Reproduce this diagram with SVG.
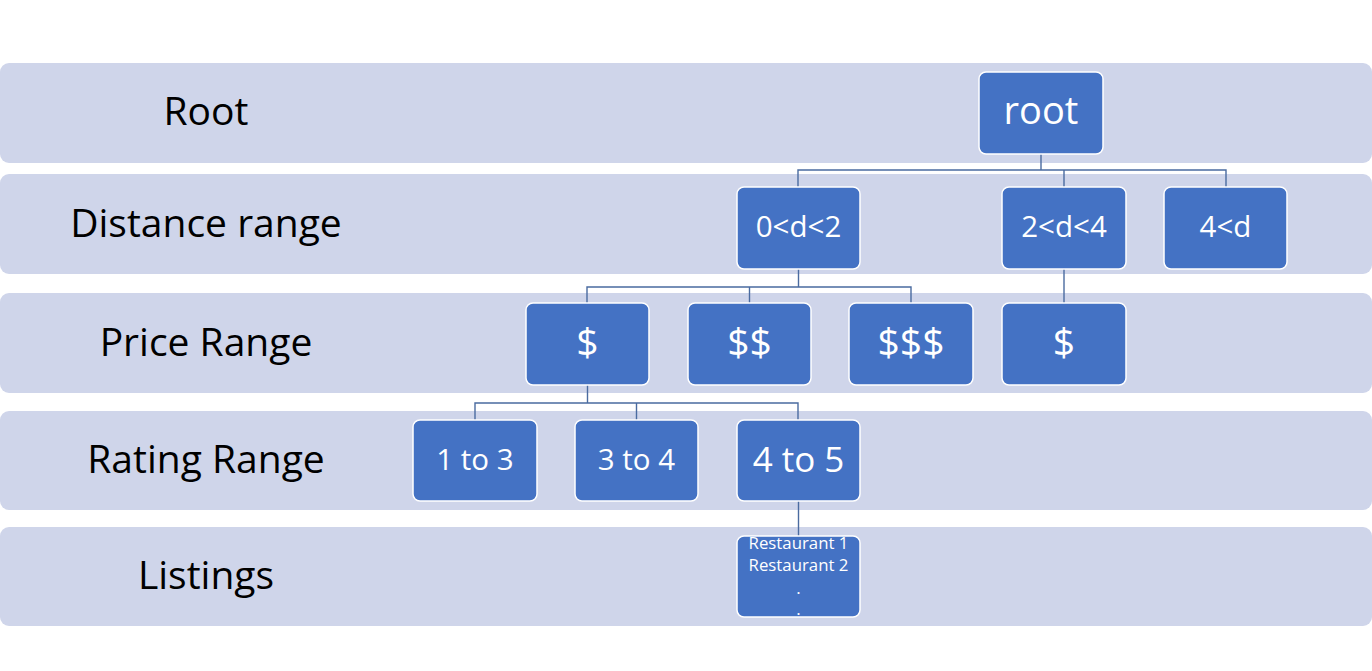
<svg xmlns="http://www.w3.org/2000/svg" width="1372" height="671" viewBox="0 0 1372 671">
<style>
.band{fill:#CFD5EA}
.lbl{font-family:"Open Sans","Liberation Sans",sans-serif;font-size:39px;fill:#000;text-anchor:middle}
.node rect{fill:#4472C4;stroke:#FFFFFF;stroke-width:1.5}
.node text{font-family:"Open Sans","Liberation Sans",sans-serif;fill:#FFFFFF;text-anchor:middle}
.conn{fill:none;stroke:#4A6BA0;stroke-width:1.4}
</style>
<rect width="1372" height="671" fill="#FFFFFF"/>
<g id="bands">
<rect class="band" x="0" y="63" width="1372" height="100" rx="9"/>
<rect class="band" x="0" y="174" width="1372" height="100" rx="9"/>
<rect class="band" x="0" y="293" width="1372" height="100" rx="9"/>
<rect class="band" x="0" y="411" width="1372" height="99" rx="9"/>
<rect class="band" x="0" y="527" width="1372" height="99" rx="9"/>
<text class="lbl" x="206" y="125">Root</text>
<text class="lbl" x="206" y="237">Distance range</text>
<text class="lbl" x="206" y="356">Price Range</text>
<text class="lbl" x="206" y="473">Rating Range</text>
<text class="lbl" x="206" y="589">Listings</text>
</g>
<g id="connectors">
<path class="conn" d="M1041,154 V170 M798,187 V170 H1226 V187 M1064,170 V187"/>
<path class="conn" d="M798.5,269 V287 M587,303 V287 H911 V303 M749.5,287 V303"/>
<path class="conn" d="M1064,269 V303"/>
<path class="conn" d="M587.5,385 V403 M475,420 V403 H798 V420 M636.5,403 V420"/>
<path class="conn" d="M798.5,501 V536"/>
</g>
<g id="n-root" class="node"><rect x="979" y="72" width="124" height="82" rx="7"/><text x="1041" y="124" font-size="38">root</text></g>
<g id="n-d1" class="node"><rect x="737" y="187" width="123" height="82" rx="7"/><text x="798.5" y="237" font-size="29.5">0&lt;d&lt;2</text></g>
<g id="n-d2" class="node"><rect x="1002" y="187" width="124" height="82" rx="7"/><text x="1064" y="237" font-size="29.5">2&lt;d&lt;4</text></g>
<g id="n-d3" class="node"><rect x="1164" y="187" width="123" height="82" rx="7"/><text x="1225.5" y="237" font-size="29.5">4&lt;d</text></g>
<g id="n-p1" class="node"><rect x="526" y="303" width="123" height="82" rx="7"/><text x="587.5" y="356" font-size="39">$</text></g>
<g id="n-p2" class="node"><rect x="688" y="303" width="123" height="82" rx="7"/><text x="749.5" y="356" font-size="39">$$</text></g>
<g id="n-p3" class="node"><rect x="849" y="303" width="124" height="82" rx="7"/><text x="911" y="356" font-size="39">$$$</text></g>
<g id="n-p4" class="node"><rect x="1002" y="303" width="124" height="82" rx="7"/><text x="1064" y="356" font-size="39">$</text></g>
<g id="n-r1" class="node"><rect x="413" y="420" width="124" height="81" rx="7"/><text x="475" y="470" font-size="29.5">1 to 3</text></g>
<g id="n-r2" class="node"><rect x="575" y="420" width="123" height="81" rx="7"/><text x="636.5" y="470" font-size="29.5">3 to 4</text></g>
<g id="n-r3" class="node"><rect x="737" y="420" width="123" height="81" rx="7"/><text x="798.5" y="472" font-size="35">4 to 5</text></g>
<g id="n-list" class="node"><rect x="737" y="536" width="123" height="81" rx="7"/>
<text x="798.5" font-size="16.8"><tspan x="798.5" y="549">Restaurant 1</tspan><tspan x="798.5" y="571">Restaurant 2</tspan><tspan x="798.5" y="594">.</tspan><tspan x="798.5" y="615">.</tspan></text></g>
</svg>
